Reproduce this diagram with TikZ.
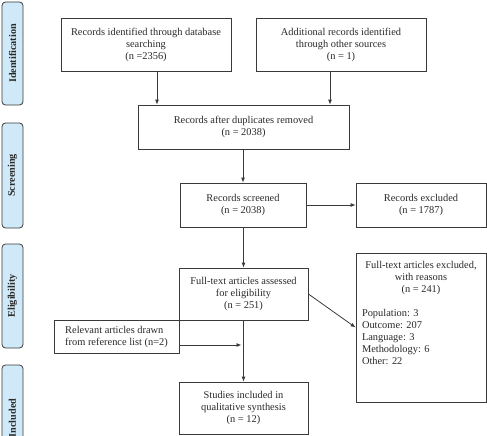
\documentclass[tikz,border=0pt]{standalone}
\usepackage{fontspec}
\setmainfont{Liberation Serif}
\usetikzlibrary{arrows.meta}
\definecolor{phasecol}{HTML}{CFE9F8}
\definecolor{linecol}{HTML}{3A3A3A}
\definecolor{txtcol}{HTML}{2A2A2A}
\begin{document}
\begin{tikzpicture}[x=1pt,y=-1pt,
  box/.style={draw=linecol, line width=0.8pt, fill=white, inner sep=0pt, align=center,
    font=\fontsize{10.4}{12}\selectfont, text=txtcol},
  phase/.style={draw=linecol, line width=0.8pt, fill=phasecol, rounded corners=3.5pt,
    inner sep=0pt, minimum width=21pt},
  phaselbl/.style={rotate=90, font=\fontsize{10.2}{12}\selectfont\bfseries, text=txtcol},
  arr/.style={-{Latex[length=5pt,width=4pt]}, line width=0.8pt, draw=linecol}]
\useasboundingbox (0,0) rectangle (487,436);
% phase bars
\node[phase, minimum height=103pt] (p1) at (12.5,53.5) {};
\node[phaselbl] (p1t) at (p1.center) {Identification};
\node[phase, minimum height=105pt] (p2) at (12.5,175.5) {};
\node[phaselbl] (p2t) at (p2.center) {Screening};
\node[phase, minimum height=104pt] (p3) at (12.5,296) {};
\node[phaselbl] (p3t) at (p3.center) {Eligibility};
\begin{scope}
\clip (0,0) rectangle (487,436);
\node[phase, minimum height=110pt] (p4) at (12.5,420) {};
\node[phaselbl] (p4t) at (12.5,418) {Included};
\end{scope}
% boxes
\node[box, minimum width=170pt, minimum height=53pt] (b1) at (146,44.5)
  {Records identified through database\\ searching\\ (n =2356)};
\node[box, minimum width=170pt, minimum height=53pt] (b2) at (341,44.5)
  {Additional records identified\\ through other sources\\ (n = 1)};
\node[box, minimum width=211pt, minimum height=44pt] (b3) at (243.5,127)
  {Records after duplicates removed\\ (n = 2038)};
\node[box, minimum width=126pt, minimum height=44pt] (b4) at (243,205)
  {Records screened\\ (n = 2038)};
\node[box, minimum width=130pt, minimum height=44pt] (b5) at (421,205)
  {Records excluded\\ (n = 1787)};
\node[box, minimum width=129pt, minimum height=52pt] (b6) at (243.5,294)
  {Full-text articles assessed\\ for eligibility\\ (n = 251)};
\node[box, minimum width=130pt, minimum height=149pt] (b7) at (421,327.5) {};
\node[anchor=north, inner sep=0pt, font=\fontsize{10.4}{12}\selectfont, text=txtcol] (b7t)
  at ([yshift=-8pt]b7.north)
  {\parbox{118pt}{\centering Full-text articles excluded,\\ with reasons\\ (n = 241)\par
   \vspace{12pt}\raggedright Population: 3\\ Outcome: 207\\ Language: 3\\ Methodology: 6\\ Other: 22}};
\node[box, minimum width=125pt, minimum height=33pt, align=left] (b8) at (116.5,337)
  {Relevant articles drawn\\ from reference list (n=2)};
\node[box, minimum width=129pt, minimum height=52pt] (b9) at (243.5,408)
  {Studies included in\\ qualitative synthesis\\ (n = 12)};
% connectors
\draw[arr] ([xshift=11pt]b1.south) -- ([xshift=11pt]b1.south |- b3.north);
\draw[arr] ([xshift=-11pt]b2.south) -- ([xshift=-11pt]b2.south |- b3.north);
\draw[arr] (b3.south -| b4.north) -- (b4.north);
\draw[arr] (b4.east) -- (b5.west);
\draw[arr] (b4.south -| b6.north) -- (b6.north);
\draw[arr] (b6.east) -- (b7.west);
\draw[arr] (b6.south) -- (b9.north);
\coordinate (m) at (241.5,345);
\draw[arr] (b8.east |- m) -- (m);
\end{tikzpicture}
\end{document}
